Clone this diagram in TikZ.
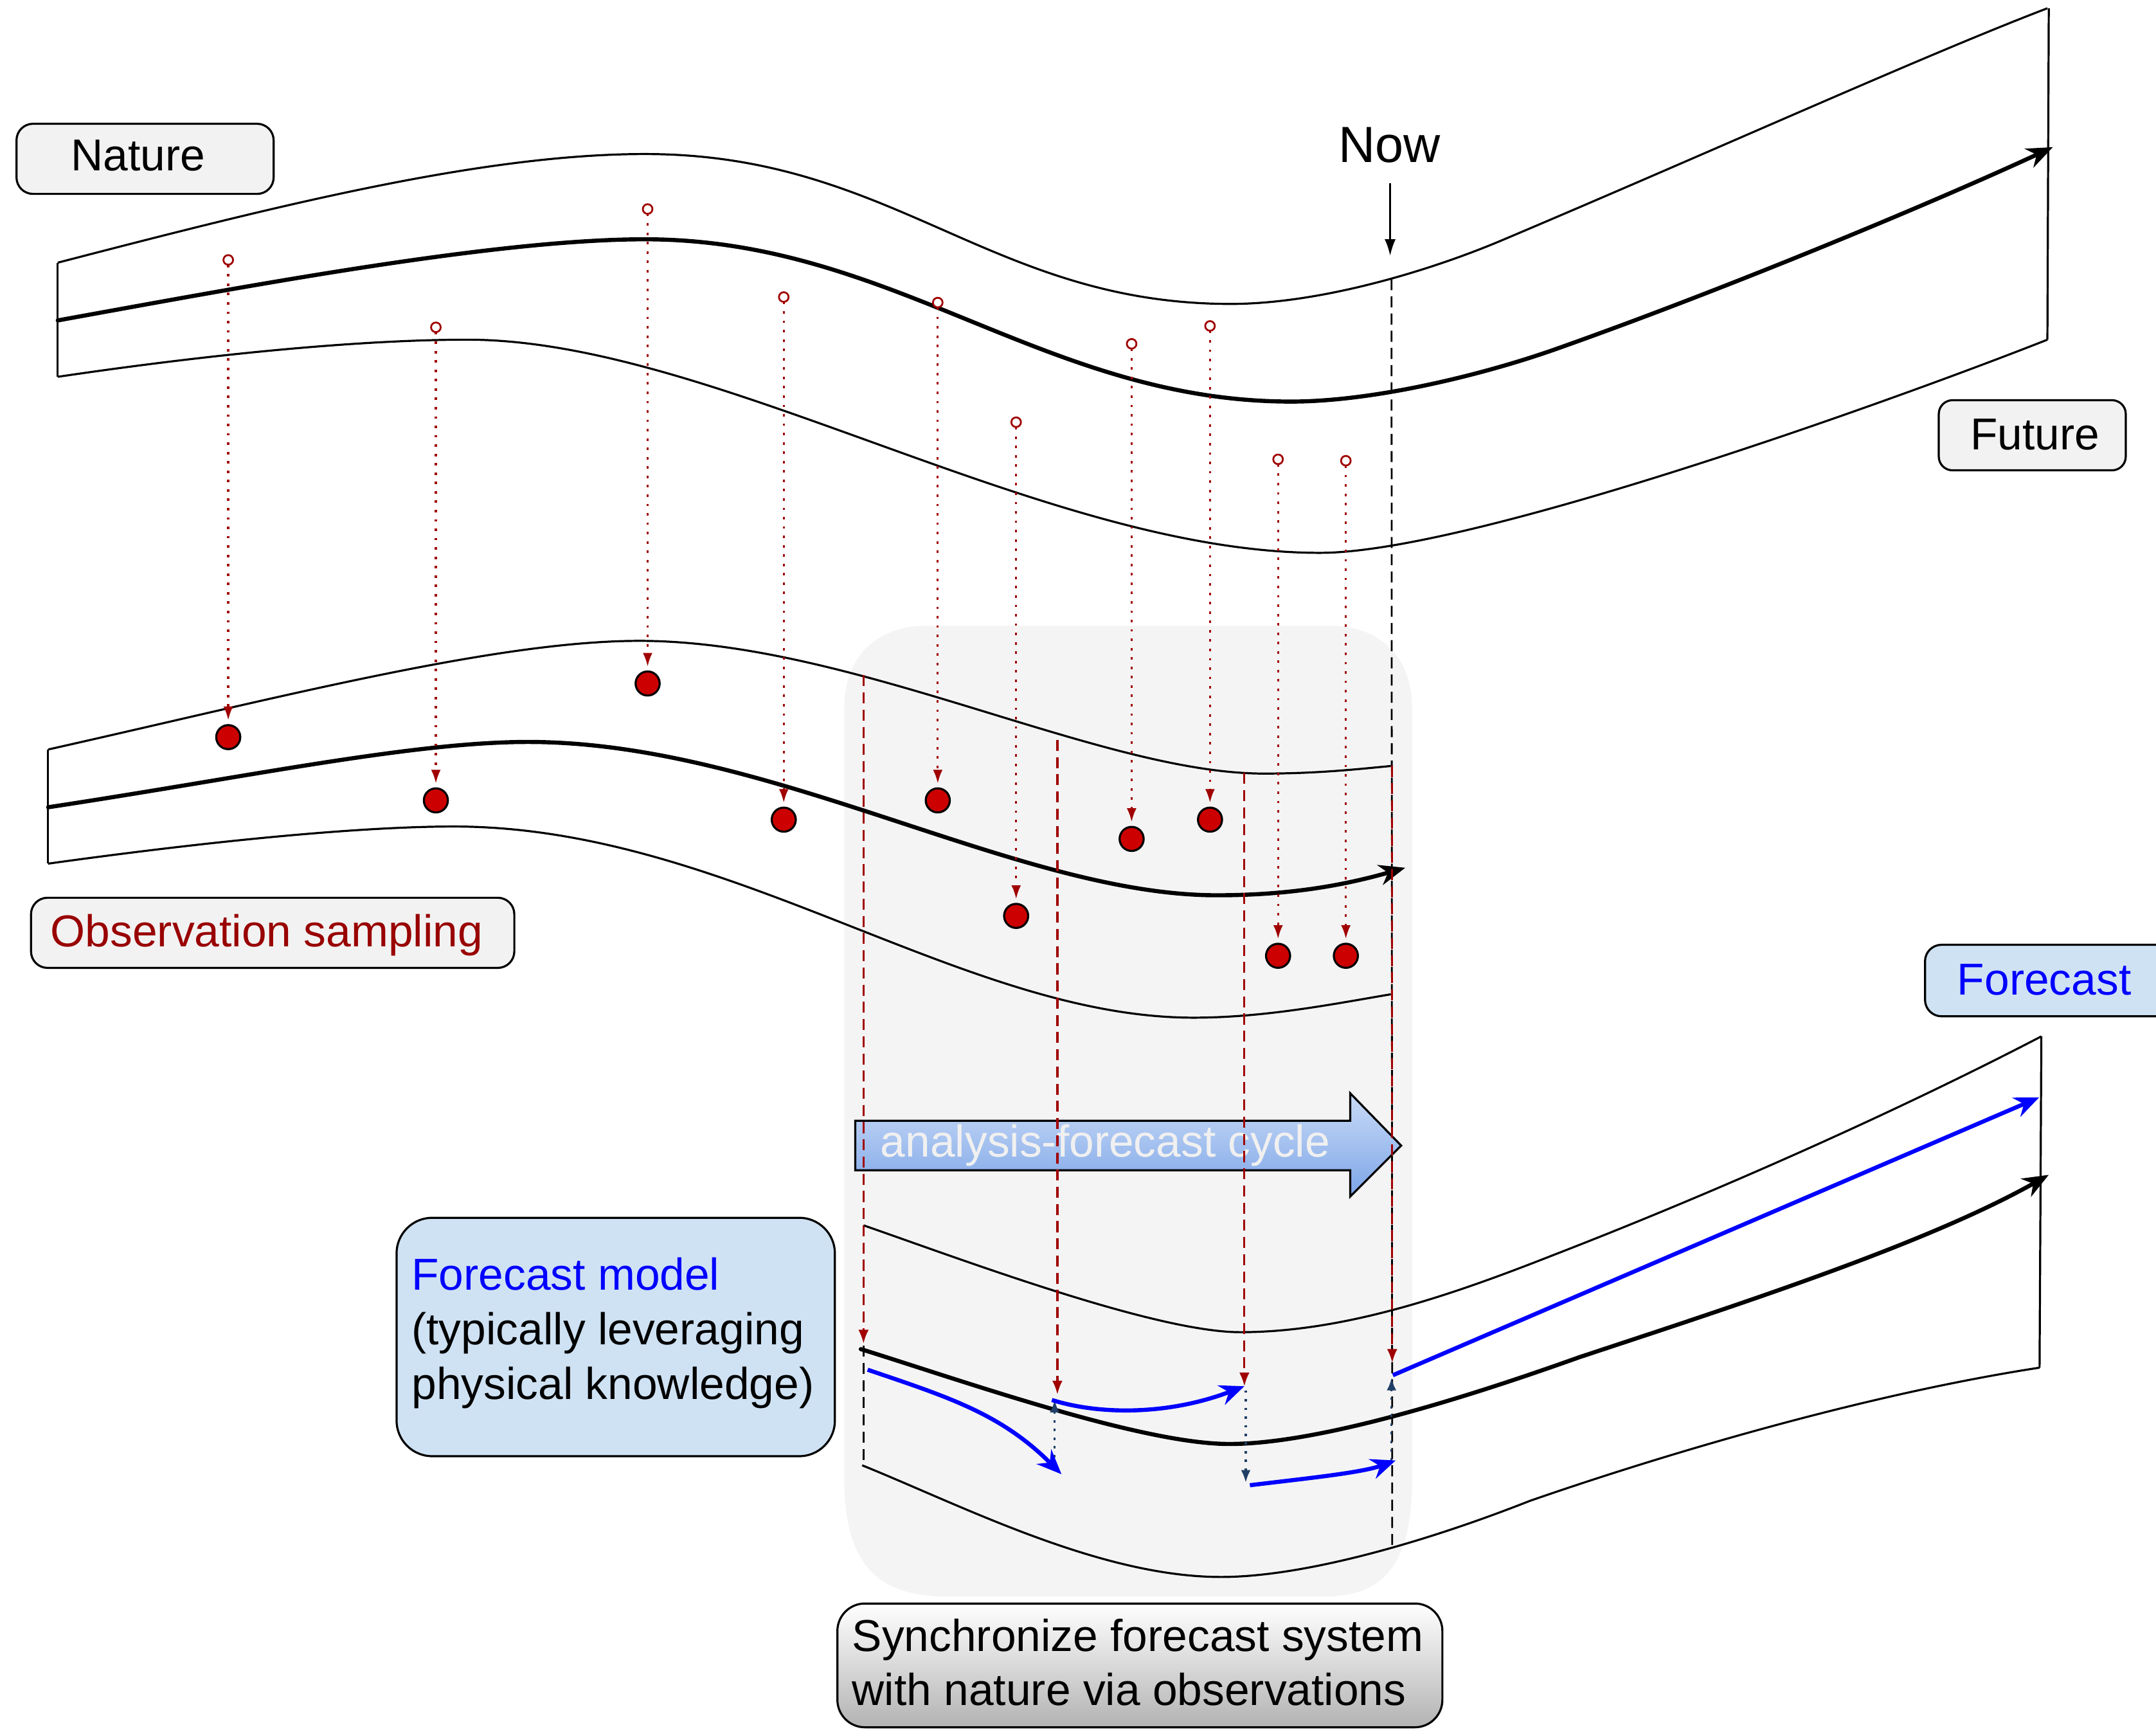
\documentclass[tikz,border=0pt]{standalone}
\usepackage{fontspec}
\setmainfont{Liberation Sans}
\usetikzlibrary{arrows.meta}
\definecolor{obsred}{HTML}{A00000}
\definecolor{dotred}{HTML}{CC0000}
\definecolor{navyc}{HTML}{1F3F66}
\definecolor{lblfill}{HTML}{F2F2F2}
\definecolor{fcfill}{HTML}{CFE2F3}
\definecolor{bggrey}{HTML}{F4F4F4}
\definecolor{arrtop}{HTML}{C9DBF6}
\definecolor{arrbot}{HTML}{7DA5E8}
\definecolor{fcblue}{HTML}{0000FF}
\definecolor{textred}{HTML}{990000}
\definecolor{cyctext}{HTML}{F0F0F0}
\begin{document}
\begin{tikzpicture}[x=1pt,y=-1pt,
  every node/.style={font=\fontsize{32.5}{39}\selectfont, inner sep=0pt, outer sep=0pt},
  thinline/.style={line width=1.5pt, line join=round},
  thickline/.style={line width=3pt, line cap=round},
  bigtip/.style={-{Stealth[length=19pt,width=15pt,inset=6pt]}},
  lblbox/.style={draw, line width=1.5pt, fill=lblfill, rounded corners=12pt},
  fcbox/.style={draw, line width=1.5pt, fill=fcfill},
  obscirc/.style={circle, draw=obsred, fill=white, line width=1.3pt, minimum size=7pt},
  obsdot/.style={circle, draw=black, fill=dotred, line width=1.5pt, minimum size=17.5pt},
  obsarrow/.style={draw=obsred, line width=1.5pt, dash pattern=on 1.8pt off 5pt, -{Latex[length=10pt,width=7pt]}, shorten >=3.5pt},
  assimarrow/.style={draw=obsred, line width=1.5pt, dash pattern=on 8pt off 4.5pt, -{Latex[length=10pt,width=7.5pt]}},
  nowline/.style={line width=1.3pt, dash pattern=on 8pt off 4.5pt},
  corrarrow/.style={draw=navyc, line width=1.5pt, dash pattern=on 1.8pt off 4.5pt, -{Latex[length=9pt,width=7pt]}},
  fcarrow/.style={draw=fcblue, line width=3pt, -{Stealth[length=18pt,width=15pt,inset=6pt]}}
]
\useasboundingbox (0,0) rectangle (1568,1259);

% grey synchronisation background
\fill[bggrey] (614,515) .. controls (614,478) and (637,455) .. (674,455) -- (967,455)
  .. controls (1004,455) and (1027,478) .. (1027,515) -- (1027,1075)
  .. controls (1027,1140) and (1005,1161) .. (962,1161) -- (690,1161)
  .. controls (640,1161) and (614,1140) .. (614,1075) -- cycle;

% ---------------- Nature band ----------------
\draw[thinline] (42,191) -- (42,274);
\draw[thinline] (42,191) .. controls (200,150) and (350,112) .. (469,112)
  .. controls (650,112) and (720,221) .. (895,221)
  .. controls (960,221) and (1040,197) .. (1094,174)
  .. controls (1250,108) and (1400,40) .. (1489,6);
\draw[thinline] (1490,6) -- (1489,247);
\draw[thinline] (42,274) .. controls (150,258) and (260,247) .. (340,247)
  .. controls (520,247) and (760,402) .. (960,402)
  .. controls (1070,402) and (1380,290) .. (1489,247);
\draw[thickline, bigtip] (42,233) .. controls (180,208) and (360,174) .. (469,174)
  .. controls (650,174) and (760,292) .. (939,292)
  .. controls (1000,292) and (1080,272) .. (1131,254)
  .. controls (1250,212) and (1400,150) .. (1493,107);

% ---------------- Observation band ----------------
\draw[thinline] (35,545) -- (35,628);
\draw[thinline] (35,545) .. controls (200,508) and (360,466) .. (465,466)
  .. controls (620,466) and (800,562.5) .. (919,562.5)
  .. controls (960,562.5) and (990,559) .. (1011.5,557);
\draw[thinline] (35,628) .. controls (150,612) and (260,601) .. (330,601)
  .. controls (530,601) and (700,740) .. (868,740)
  .. controls (920,740) and (970,730) .. (1011.5,723);
\draw[thickline, bigtip] (35,587) .. controls (180,565) and (300,539.5) .. (384,539.5)
  .. controls (560,539.5) and (740,651) .. (885,651)
  .. controls (940,651) and (980,643) .. (1022,631);

% ---------------- Forecast band ----------------
\draw[thinline] (628,891) .. controls (700,916) and (840,968.7) .. (902,968.7)
  .. controls (980,968.7) and (1060,940) .. (1130,912.5)
  .. controls (1250,866) and (1380,808) .. (1484.6,753.6);
\draw[thinline] (1484.6,753.6) -- (1483.3,994.5);
\draw[thinline] (627,1065.5) .. controls (700,1095) and (800,1146.7) .. (888,1146.7)
  .. controls (950,1146.7) and (1040,1120) .. (1112.5,1091.4)
  .. controls (1200,1061) and (1350,1015) .. (1483.3,994.5);
\draw[thickline, bigtip] (626,981) .. controls (700,1004) and (830,1050) .. (894,1050)
  .. controls (960,1050) and (1070,1015) .. (1148.3,987)
  .. controls (1260,950) and (1400,905) .. (1490,854.3);

% ---------------- labels ----------------
\node[lblbox, minimum width=187pt, minimum height=51pt] (naturebox) at (105.5,115.5) {};
\node[anchor=base] (naturetxt) at (100.5,124.2) {Nature};
\node[lblbox, rounded corners=10pt, minimum width=136pt, minimum height=51pt] (futurebox) at (1478,316.5) {};
\node[anchor=base] (futuretxt) at (1480,326.9) {Future};
\node[lblbox, minimum width=351.5pt, minimum height=51pt] (obsbox) at (198.3,678.3) {};
\node[anchor=base west, text=textred] (obstxt) at (36.8,688.5) {Observation sampling};
\node[fcbox, rounded corners=12pt, minimum width=190pt, minimum height=52pt] (fcbox) at (1495,713) {};
\node[anchor=base, text=fcblue] (fctxt) at (1486.7,723.5) {Forecast};
\node[fcbox, rounded corners=26pt, minimum width=318.8pt, minimum height=173.4pt] (modelbox) at (447.8,972.2) {};
\node[anchor=base west, text=fcblue] (model1) at (299.4,938.1) {Forecast model};
\node[anchor=base west] (model2) at (299.4,977.9) {(typically leveraging};
\node[anchor=base west] (model3) at (299.4,1017.3) {physical knowledge)};
\node[draw, line width=1.5pt, rounded corners=20pt, top color=white, bottom color=black!30, minimum width=440pt, minimum height=90pt] (syncbox) at (829,1211) {};
\node[anchor=base west] (sync1) at (619.8,1200.7) {Synchronize forecast system};
\node[anchor=base west] (sync2) at (619.8,1240.2) {with nature via observations};

% Now marker
\node[anchor=base, font=\fontsize{37}{44}\selectfont] (nowtxt) at (1010.5,118) {Now};
\coordinate (nowtop) at (1011,133);
\coordinate (nowbot) at (1011,186);
\draw[line width=1.3pt, -{Latex[length=12pt,width=8pt]}] (nowtop) -- (nowbot);
\coordinate (nowA) at (1012,203);
\coordinate (nowB) at (1012.5,1124);
\draw[nowline] (nowA) -- (nowB);
\coordinate (fcleftA) at (628,491);
\coordinate (fcleftB) at (628,1065.5);
\draw[nowline] (fcleftA) -- (fcleftB);

% analysis-forecast cycle arrow
\draw[line width=1.5pt, top color=arrtop, bottom color=arrbot, line join=miter]
  (622,815) -- (982,815) -- (982,795) -- (1019,833) -- (982,870) -- (982,851) -- (622,851) -- cycle;
\node[anchor=base west, text=cyctext] (cyctxt) at (640.4,841.3) {analysis-forecast cycle};

% assimilation arrows (red dashed)
\coordinate (a1s) at (628,491);   \coordinate (a1e) at (628,977);
\coordinate (a2s) at (769,538);   \coordinate (a2e) at (769,1014);
\coordinate (a3s) at (905,562);   \coordinate (a3e) at (905,1008);
\coordinate (a4s) at (1012.5,557); \coordinate (a4e) at (1012.5,991);
\draw[assimarrow] (a1s) -- (a1e);
\draw[assimarrow] (a2s) -- (a2e);
\draw[assimarrow] (a3s) -- (a3e);
\draw[assimarrow] (a4s) -- (a4e);

% corrections (navy dotted)
\coordinate (c1s) at (767,1066); \coordinate (c1e) at (767,1018);
\coordinate (c2s) at (906,1011); \coordinate (c2e) at (906,1078);
\coordinate (c3s) at (1012,1062); \coordinate (c3e) at (1012,1002);
\draw[corrarrow] (c1s) -- (c1e);
\draw[corrarrow] (c2s) -- (c2e);
\draw[corrarrow] (c3s) -- (c3e);

% forecast trajectories (blue)
\coordinate (f1s) at (631,996);  \coordinate (f1e) at (772,1072);
\coordinate (f2s) at (765,1018); \coordinate (f2e) at (905,1008);
\coordinate (f3s) at (909,1080); \coordinate (f3e) at (1015,1062);
\coordinate (f4s) at (1013,1000); \coordinate (f4e) at (1483,798);
\draw[fcarrow] (f1s) .. controls (690,1016) and (728,1028) .. (f1e);
\draw[fcarrow] (f2s) .. controls (800,1029) and (850,1029) .. (f2e);
\draw[fcarrow] (f3s) .. controls (950,1075) and (990,1071) .. (f3e);
\draw[fcarrow] (f4s) -- (f4e);

% observations
\foreach \i/\x/\ya/\yb in {1/166/189/536, 2/317/238/582, 3/471/152/497, 4/570/216/596, 5/682/220/582, 6/739/307/666, 7/823/250/610, 8/880/237/596, 9/929.5/334/695, 10/978.8/335/695}{
  \node[obscirc] (o\i) at (\x,\ya) {};
  \node[obsdot] (d\i) at (\x,\yb) {};
  \draw[obsarrow] (o\i.south) -- (d\i.north);
}
\end{tikzpicture}
\end{document}
